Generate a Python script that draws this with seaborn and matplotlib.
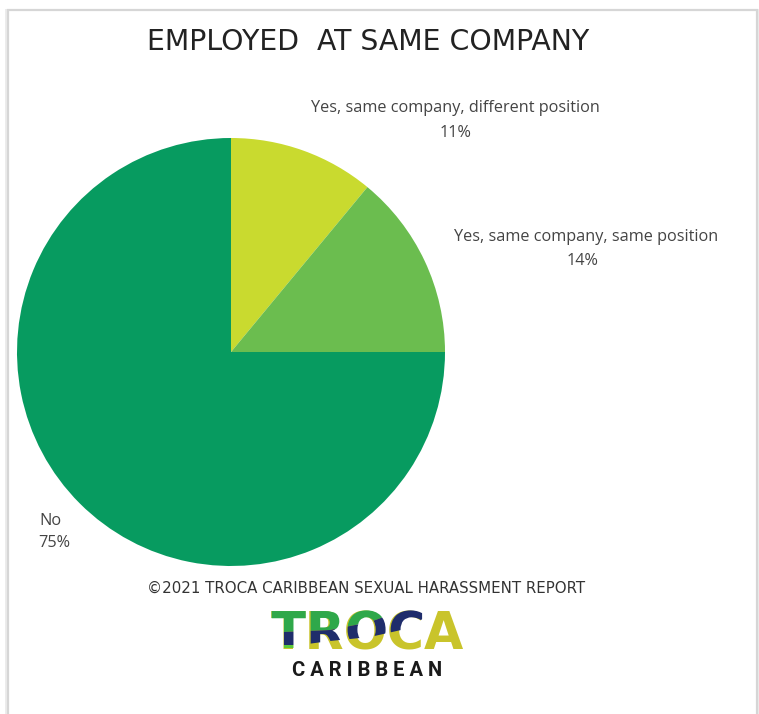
import matplotlib
matplotlib.use("Agg")
import matplotlib.pyplot as plt
from matplotlib.patches import Rectangle, Polygon, PathPatch
from matplotlib.textpath import TextPath, text_to_path
from matplotlib.font_manager import FontProperties
from matplotlib.transforms import Affine2D
import seaborn as sns

# Survey answers
labels = ["Yes, same company, different position",
          "Yes, same company, same position",
          "No"]
shares = [11, 14, 75]
slice_colors = ["#c9da2f", "#6bbd4f", "#079b60"]

title = "EMPLOYED  AT SAME COMPANY"
footer = "\u00a92021 TROCA CARIBBEAN SEXUAL HARASSMENT REPORT"
brand = "TROCA"
brand_sub = "C A R I B B E A N"

sns.set_theme(style="white")
plt.rcParams["font.family"] = ["DejaVu Sans"]

W, H = 759, 714
fig = plt.figure(figsize=(W / 100, H / 100), dpi=100)
fig.patch.set_facecolor("white")

# card background
bg = fig.add_axes([0, 0, 1, 1])
bg.set_xlim(0, W)
bg.set_ylim(H, 0)
bg.axis("off")
bg.add_patch(Rectangle((5, 9), 754, 720, facecolor="#ececec", edgecolor="none"))
bg.add_patch(Rectangle((7.5, 9.5), 749, 720, facecolor="white",
                       edgecolor="#d6d6d6", lw=1.6))

# pie
cx, cy, r = 231, 352, 214
pie_ax = fig.add_axes([(cx - r) / W, (H - cy - r) / H, 2 * r / W, 2 * r / H])
pie_ax.pie(shares, colors=slice_colors, startangle=90, counterclock=False,
           wedgeprops=dict(linewidth=0))
pie_ax.set_xlim(-1, 1)
pie_ax.set_ylim(-1, 1)
pie_ax.set_aspect("auto")
pie_ax.axis("off")

# text layer in pixel coordinates
ov = fig.add_axes([0, 0, 1, 1])
ov.set_xlim(0, W)
ov.set_ylim(H, 0)
ov.axis("off")
ov.patch.set_alpha(0)

ov.text(368, 50, title, ha="center", va="baseline", fontsize=20.4,
        color="#222222", family="DejaVu Sans")

label_font = dict(family="Open Sans", fontsize=11.7, color="#444444",
                  ha="center", va="baseline")
label_pos = [(455, 112, 456, 137), (586, 241, 583, 265), (50, 525, 54, 547)]
for lab, val, (lx, ly, vx, vy) in zip(labels, shares, label_pos):
    ov.text(lx, ly, lab, **label_font)
    ov.text(vx, vy, f"{val}%", **label_font)

ov.text(366, 593, footer, ha="center", va="baseline", fontsize=10.8,
        color="#333333", family="DejaVu Sans")

# brand mark: the word as text, with colour bands painted over its glyphs
brand_x, brand_base, brand_pt = 367, 650, 36.5
ov.text(brand_x, brand_base, brand, ha="center", va="baseline",
        fontsize=brand_pt, fontweight="bold", color="#c9c42b",
        family="DejaVu Sans", zorder=3)

size_px = brand_pt * 100 / 72
brand_prop = FontProperties(family="DejaVu Sans", weight="bold", size=size_px)
bw, _, _ = text_to_path.get_text_width_height_descent(brand, brand_prop,
                                                      ismath=False)
glyphs = TextPath((0, 0), brand, size=size_px, prop=brand_prop)
# small nudge so the outline sits on the rasterised glyphs
glyph_tf = Affine2D().scale(1, -1).translate(brand_x - bw / 2 + 1,
                                             brand_base - 2)
glyph_clip = PathPatch(glyph_tf.transform_path(glyphs), transform=ov.transData)

green_edge = [(260, 633), (330, 630), (370, 622), (400, 611), (480, 598)]
navy_edge = [(260, 645), (300, 645), (330, 641), (370, 637), (410, 628),
             (432, 612), (480, 598)]
bands = [
    ("#2fa84a", [(260, 590), (480, 590)] + green_edge[::-1]),
    ("#1f2d6b", green_edge + navy_edge[::-1]),
    ("#5cc93a", [(260, 645), (300, 645), (300, 660), (260, 660)]),
]
for col, pts in bands:
    band = Polygon(pts, closed=True, facecolor=col, edgecolor="none",
                   transform=ov.transData, zorder=4)
    ov.add_patch(band)
    band.set_clip_path(glyph_clip)

ov.text(367, 676, brand_sub, ha="center", va="baseline", fontsize=14.5,
        fontweight="bold", color="#1a1a1a", family="Roboto")

fig.savefig("out.png", dpi=100, facecolor="white")
